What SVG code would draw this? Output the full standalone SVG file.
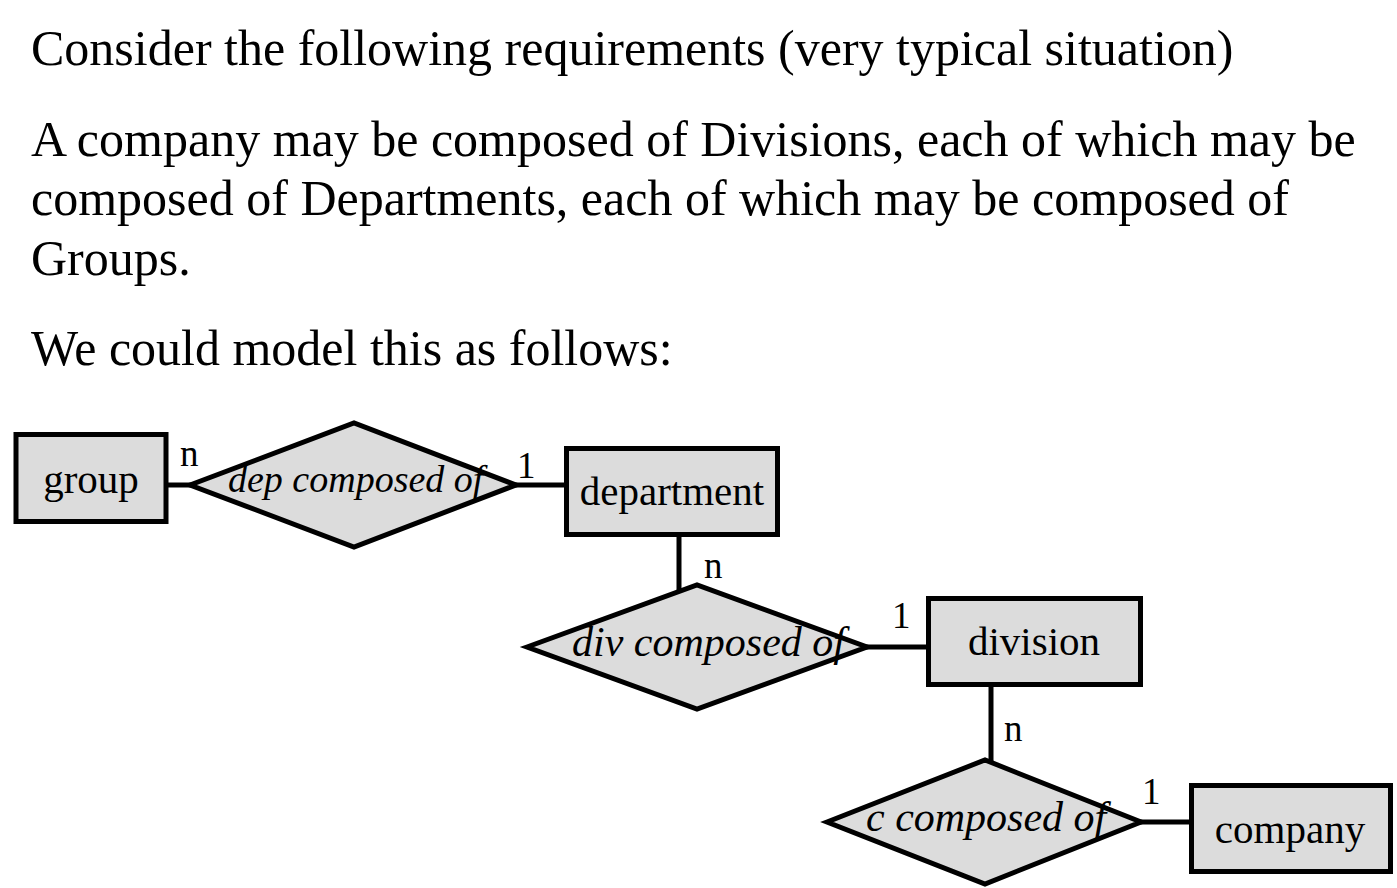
<svg xmlns="http://www.w3.org/2000/svg" width="1397" height="888" viewBox="0 0 1397 888">
<style>
.t{font-family:"Liberation Serif","Times New Roman",serif;font-size:50px;fill:#000}
.ent rect{fill:#dcdcdc;stroke:#000;stroke-width:5}
.rel polygon{fill:#dcdcdc;stroke:#000;stroke-width:5;stroke-linejoin:miter}
.lbl{font-family:"Liberation Serif","Times New Roman",serif;font-size:41px;fill:#000;text-anchor:middle}
.rl{font-family:"Liberation Serif","Times New Roman",serif;font-style:italic;font-size:42px;fill:#000}
.card{font-family:"Liberation Serif","Times New Roman",serif;font-size:37px;fill:#000}
.conn line{stroke:#000;stroke-width:5}
</style>
<rect width="1397" height="888" fill="#fff"/>
<g id="text">
<text class="t" x="31" y="65">Consider the following requirements (very typical situation)</text>
<text class="t" x="31" y="156">A company may be composed of Divisions, each of which may be</text>
<text class="t" x="31" y="215">composed of Departments, each of which may be composed of</text>
<text class="t" x="31" y="275">Groups.</text>
<text class="t" x="31" y="365">We could model this as follows:</text>
</g>
<g id="connectors" class="conn">
<line x1="166" y1="485" x2="192" y2="485"/>
<line x1="514" y1="485" x2="566" y2="485"/>
<line x1="679" y1="535" x2="679" y2="592"/>
<line x1="865" y1="647" x2="928" y2="647"/>
<line x1="991" y1="685" x2="991" y2="762"/>
<line x1="1139" y1="822" x2="1191" y2="822"/>
</g>
<g id="group" class="ent">
<rect x="16" y="434.5" width="150" height="87"/>
<text class="lbl" x="91" y="493">group</text>
</g>
<g id="dep_composed_of" class="rel">
<polygon points="190,485 354,423 516,485 354,547"/>
<text class="rl" x="228" y="492" style="font-size:38px">dep composed of</text>
</g>
<g id="department" class="ent">
<rect x="566.5" y="448.5" width="211" height="86"/>
<text class="lbl" x="672" y="505">department</text>
</g>
<g id="div_composed_of" class="rel">
<polygon points="527,647 697,585 867,647 697,709"/>
<text class="rl" x="572" y="656">div composed of</text>
</g>
<g id="division" class="ent">
<rect x="928.5" y="598.5" width="212" height="86"/>
<text class="lbl" x="1034" y="655">division</text>
</g>
<g id="c_composed_of" class="rel">
<polygon points="827,822 985,760 1141,822 985,884"/>
<text class="rl" x="866" y="831">c composed of</text>
</g>
<g id="company" class="ent">
<rect x="1191.5" y="785.5" width="199" height="86"/>
<text class="lbl" x="1290" y="843">company</text>
</g>
<g id="cardinalities">
<text class="card" x="180" y="466">n</text>
<text class="card" x="517" y="478">1</text>
<text class="card" x="704" y="578">n</text>
<text class="card" x="892" y="628">1</text>
<text class="card" x="1004" y="741">n</text>
<text class="card" x="1142" y="804">1</text>
</g>
</svg>
